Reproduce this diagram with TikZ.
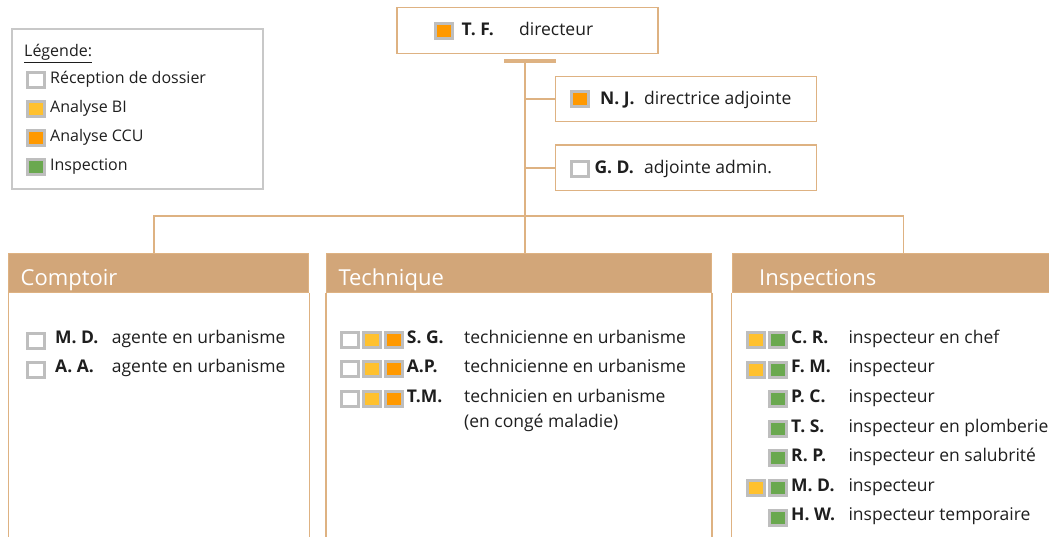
\documentclass[tikz,border=0pt]{standalone}
\usepackage{fontspec}
\setmainfont{Open Sans}
\usepackage{xcolor}
\usepackage{tikz}
\usetikzlibrary{positioning}

\definecolor{tanline}{RGB}{222,178,130}
\definecolor{tanhead}{RGB}{210,166,121}
\definecolor{sqgray}{RGB}{190,190,190}
\definecolor{legendgray}{RGB}{200,200,200}
\definecolor{biyellow}{RGB}{255,193,46}
\definecolor{ccuorange}{RGB}{255,153,0}
\definecolor{inspgreen}{RGB}{106,168,79}
\definecolor{ink}{RGB}{30,30,30}

\begin{document}
\begin{tikzpicture}[
  x=1pt, y=-1pt,
  box/.style={draw=tanline, line width=1.5pt, inner sep=0pt},
  head/.style={draw=tanline, fill=tanhead, line width=1pt, anchor=north west, minimum height=39pt, inner sep=0pt},
  title/.style={anchor=base west, inner sep=0pt, text=white, font=\fontsize{22}{26}\selectfont},
  panel/.style={draw=tanline, line width=1.5pt},
  link/.style={draw=tanline, line width=1.5pt},
  sq/.style={draw=sqgray, line width=3pt, minimum width=17pt, minimum height=15pt, inner sep=0pt},
  rec/.style={sq, fill=white},
  bi/.style={sq, fill=biyellow},
  ccu/.style={sq, fill=ccuorange},
  insp/.style={sq, fill=inspgreen},
  who/.style={anchor=base west, inner sep=0pt, text=ink, font=\fontsize{17.5}{20}\selectfont\bfseries},
  role/.style={anchor=base west, inner sep=0pt, text=ink, font=\fontsize{17.5}{20}\selectfont},
  legtext/.style={anchor=base west, inner sep=0pt, text=ink, font=\fontsize{16}{19}\selectfont}
]
\clip (0,0) rectangle (1049,537);

% Legend
\node[draw=legendgray, line width=1.5pt, minimum width=251pt, minimum height=160pt] (Legend) at (137.5,109) {};
\node[legtext] (LegTitle) at (24,56.5) {\underline{Légende:}};
\node[rec] (LegRec) at (36,80) {};
\node[legtext] (LegRecText) at (50,84) {Réception de dossier};
\node[bi] (LegBI) at (36,109) {};
\node[legtext] (LegBIText) at (50,113) {Analyse BI};
\node[ccu] (LegCCU) at (36,138) {};
\node[legtext] (LegCCUText) at (50,142) {Analyse CCU};
\node[insp] (LegInsp) at (36,167) {};
\node[legtext] (LegInspText) at (50,171) {Inspection};

% Direction
\node[box, minimum width=261pt, minimum height=46pt] (Director) at (527.5,30.3) {};
\node[ccu] (TFsq) at (444,31) {};
\node[who] (TF) at (461.5,36) {T. F.};
\node[role] (TFrole) at (519,36) {directeur};

\node[fill=tanline, minimum width=52pt, minimum height=3.5pt, inner sep=0pt] (Bar) at (529.5,61) {};
\coordinate (Trunk) at (525,61);

\node[box, minimum width=261pt, minimum height=45pt] (NJ) at (686.2,99.2) {};
\node[ccu] (NJsq) at (580,99.3) {};
\node[who] (NJname) at (600,104.5) {N. J.};
\node[role] (NJrole) at (644,104.5) {directrice adjointe};

\node[box, minimum width=261pt, minimum height=45.7pt] (GD) at (686.2,167.8) {};
\node[rec] (GDsq) at (580,169) {};
\node[who] (GDname) at (594.3,173.5) {G. D.};
\node[role] (GDrole) at (644,173.5) {adjointe admin.};

% Sections
\node[head, minimum width=300pt] (CompHead) at (8.3,252.7) {};
\node[title] (CompTitle) at (20.5,286) {Comptoir};
\node[head, minimum width=385pt] (TechHead) at (326,252.7) {};
\node[title] (TechTitle) at (338.3,286) {Technique};
\node[head, minimum width=330pt] (InspHead) at (731.7,252.7) {};
\node[title] (InspTitle) at (759,286) {Inspections};

\draw[panel] (CompHead.south west) -- ++(0,260);
\draw[panel] (CompHead.south east) -- ++(0,260);
\draw[panel] (TechHead.south west) -- ++(0,260);
\draw[panel] (TechHead.south east) -- ++(0,260);
\draw[panel] (InspHead.south west) -- ++(0,260);

% Links
\coordinate (SplitC) at (154,216);
\coordinate (SplitI) at (903.5,216);
\draw[link] (Trunk) -- (Trunk |- TechHead.north);
\draw[link] (Trunk |- NJ.west) -- (NJ.west);
\draw[link] (Trunk |- GD.west) -- (GD.west);
\draw[link] (SplitC |- CompHead.north) -- (SplitC) -- (SplitI) -- (SplitI |- InspHead.north);

% Comptoir
\node[rec] (MDsq) at (36.3,340.5) {};
\node[who] (MD) at (55,343.3) {M. D.};
\node[role] (MDrole) at (111.7,343.3) {agente en urbanisme};
\node[rec] (AAsq) at (36.3,369.5) {};
\node[who] (AA) at (55,372.7) {A. A.};
\node[role] (AArole) at (111.7,372.7) {agente en urbanisme};

% Technique
\node[rec] (SGrec) at (350,340) {};
\node[bi] (SGbi) at (372,340) {};
\node[ccu] (SGccu) at (393.5,340) {};
\node[who] (SG) at (406.7,343.3) {S. G.};
\node[role] (SGrole) at (464,343.3) {technicienne en urbanisme};
\node[rec] (APrec) at (350,369) {};
\node[bi] (APbi) at (372,369) {};
\node[ccu] (APccu) at (393.5,369) {};
\node[who] (AP) at (406.7,372.7) {A.P.};
\node[role] (AProle) at (464,372.7) {technicienne en urbanisme};
\node[rec] (TMrec) at (350,398.5) {};
\node[bi] (TMbi) at (372,398.5) {};
\node[ccu] (TMccu) at (393.5,398.5) {};
\node[who] (TM) at (406.7,402.7) {T.M.};
\node[role] (TMrole) at (464,402.7) {technicien en urbanisme};
\node[role] (TMnote) at (464,427) {(en congé maladie)};

% Inspections
\node[bi] (CRbi) at (756.3,340) {};
\node[insp] (CRinsp) at (778.3,340) {};
\node[who] (CR) at (791,343.3) {C. R.};
\node[role] (CRrole) at (848.3,343.3) {inspecteur en chef};
\node[bi] (FMbi) at (756.3,369.5) {};
\node[insp] (FMinsp) at (778.3,369.5) {};
\node[who] (FM) at (791,372.9) {F. M.};
\node[role] (FMrole) at (848.3,372.9) {inspecteur};
\node[insp] (PCinsp) at (778.3,399) {};
\node[who] (PC) at (791,402.5) {P. C.};
\node[role] (PCrole) at (848.3,402.5) {inspecteur};
\node[insp] (TSinsp) at (778.3,428.7) {};
\node[who] (TS) at (791,432.1) {T. S.};
\node[role] (TSrole) at (848.3,432.1) {inspecteur en plomberie};
\node[insp] (RPinsp) at (778.3,458.3) {};
\node[who] (RP) at (791,461.7) {R. P.};
\node[role] (RProle) at (848.3,461.7) {inspecteur en salubrité};
\node[bi] (MD2bi) at (756.3,487.9) {};
\node[insp] (MD2insp) at (778.3,487.9) {};
\node[who] (MD2) at (791,491.3) {M. D.};
\node[role] (MD2role) at (848.3,491.3) {inspecteur};
\node[insp] (HWinsp) at (778.3,517.5) {};
\node[who] (HW) at (791,520.9) {H. W.};
\node[role] (HWrole) at (848.3,520.9) {inspecteur temporaire};

\end{tikzpicture}
\end{document}
